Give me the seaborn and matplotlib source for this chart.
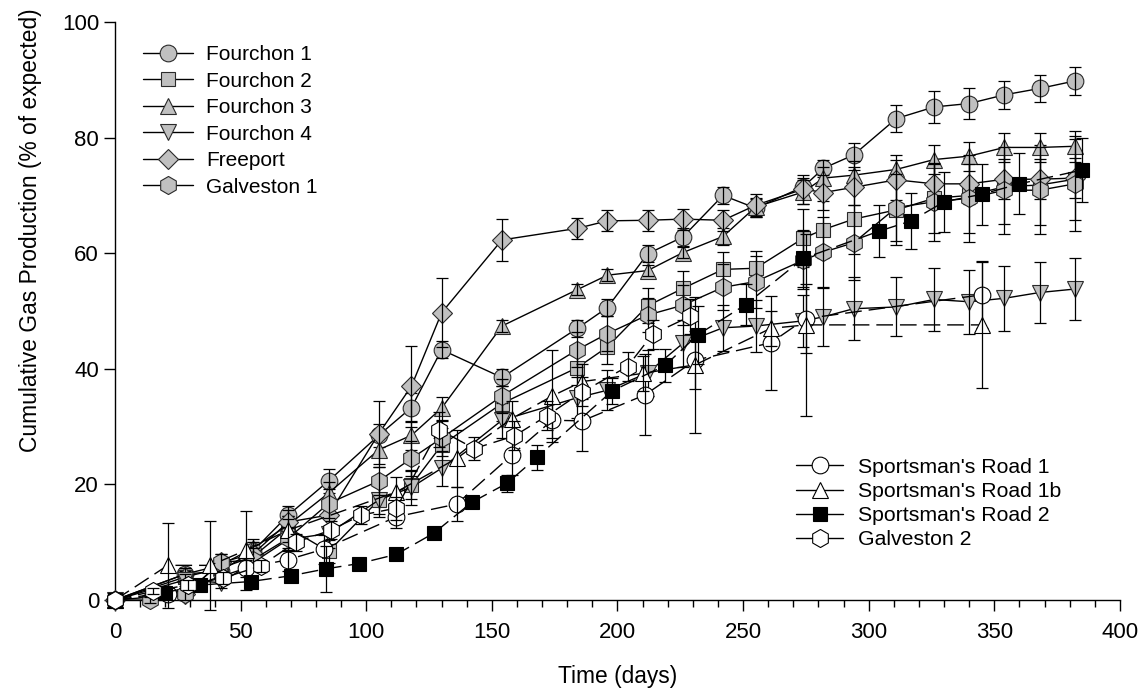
import numpy as np
import pandas as pd
import matplotlib
matplotlib.use("Agg")
import matplotlib.pyplot as plt
from matplotlib.lines import Line2D
from matplotlib.ticker import MultipleLocator
import seaborn as sns

# sampling days used by the gray (Fourchon / Freeport / Galveston 1) series
days_a = [0, 28, 42, 55, 69, 85, 105, 118, 130, 154, 184, 196, 212, 226, 242,
          255, 274, 282, 294, 311, 326, 340, 354, 368, 382]

fourchon1 = [0, 4.5, 5.0, 8.5, 14.7, 20.6, 28.5, 33.3, 43.3, 38.5, 47.0, 50.6, 59.9,
             62.8, 70.0, 67.8, 71.5, 74.7, 77.0, 83.3, 85.3, 85.9, 87.4, 88.5, 89.8]
fourchon1_err = [0, 1, 1.5, 1.5, 1.5, 2, 2, 2.5, 1.5, 1.5, 1.5, 1.5, 1.5,
                 1.5, 1.5, 1.5, 1.5, 1.5, 2, 2.4, 2.7, 2.6, 2.4, 2.3, 2.4]

fourchon2 = [0, 4.0, 5.5, 7.5, 12.5, 8.4, 17.3, 19.9, 26.8, 34.0, 40.2, 43.8, 50.9,
             53.9, 57.2, 57.4, 62.6, 64.1, 65.9, 67.5, 69.5, 70.0, 71.5, 71.8, 72.8]
fourchon2_err = [0, 1, 1, 1.5, 2, 2, 2.5, 2.5, 3, 3, 3, 3, 3,
                 3, 3, 3, 5, 5, 6, 6, 6, 6.5, 6.5, 7, 7]

fourchon3 = [0, 4.5, 6.0, 9.0, 13.0, 18.5, 26.0, 28.5, 33.2, 47.4, 53.7, 56.2, 57.0,
             60.1, 62.9, 68.0, 70.6, 73.0, 73.5, 74.5, 76.2, 76.8, 78.3, 78.3, 78.5]
fourchon3_err = [0, 1, 1, 1.5, 1.5, 2, 2.5, 2.5, 2, 1, 1, 1, 1,
                 1, 1.5, 1.5, 2, 2, 2.5, 2.5, 2.5, 2.5, 2.5, 2.5, 2.7]

fourchon4 = [0, 3.5, 3.0, 6.5, 10.5, 11.5, 17.3, 19.5, 22.8, 31.1, 35.0, 36.3, 39.3,
             44.4, 47.1, 47.4, 48.3, 49.0, 50.4, 50.7, 52.0, 51.6, 52.2, 53.2, 53.8]
fourchon4_err = [0, 1, 1, 1.5, 2, 2.5, 3, 3, 3, 3, 3.5, 3.5, 4,
                 4, 4, 4.5, 4.5, 5, 5.5, 5.1, 5.5, 5.5, 5.6, 5.2, 5.4]

freeport = [0, 1.0, 6.5, 8.0, 13.5, 14.7, 28.8, 37.0, 49.7, 62.3, 64.3, 65.6, 65.7,
            65.9, 65.7, 68.3, 71.1, 70.5, 71.4, 72.7, 72.0, 72.0, 72.8, 72.8, 73.0]
freeport_err = [0, 1, 1.5, 2, 2, 2.5, 5.7, 7, 6, 3.6, 1.8, 1.8, 1.8,
                1.8, 1.8, 2, 2.5, 3, 3, 3.5, 3.5, 3.5, 3.5, 3.5, 3.5]

days_g1 = [0, 14, 28, 42, 55, 69, 85, 105, 118, 130, 154, 184, 196, 212, 226, 242,
           255, 274, 282, 294, 311, 326, 340, 354, 368, 382]
galveston1 = [0, 0.0, 1.0, 6.5, 7.0, 10.7, 16.7, 20.6, 24.5, 28.0, 35.3, 43.3, 46.1,
              49.3, 51.0, 54.1, 55.1, 58.8, 60.2, 61.8, 67.9, 68.9, 69.5, 70.9, 70.9, 72.0]
galveston1_err = [0, 0.5, 1, 1.5, 2, 2, 2.5, 2.5, 3, 3, 3, 3, 3,
                  3, 3.5, 4, 4.5, 5, 6, 6.5, 5.8, 6.7, 7.5, 7.5, 7.5, 8.2]

days_s1 = [0, 21, 52, 69, 83, 112, 136, 158, 174, 186, 211, 231, 261, 275, 345]
sportsman1 = [0, 1.0, 5.5, 7.0, 8.8, 14.4, 16.6, 25.1, 31.1, 31.0, 35.5, 41.5, 44.5, 48.7, 52.8]
sportsman1_err = [0, 1, 1.5, 2, 2.5, 2, 3, 3.5, 3, 5.2, 7, 5, 8.1, 6, 5.7]

days_s1b = [0, 21, 38, 52, 69, 112, 136, 158, 174, 186, 210, 231, 261, 275, 345]
sportsman1b = [0, 6.0, 6.0, 8.6, 12.1, 18.7, 24.5, 31.4, 35.3, 37.8, 39.2, 40.7, 47.0, 47.6, 47.6]
sportsman1b_err = [0, 7.4, 7.7, 6.8, 2, 2.5, 5, 3, 8, 3, 3, 11.8, 3, 15.8, 11]

days_s2 = [0, 20, 34, 54, 70, 84, 97, 112, 127, 142, 156, 168, 198, 219, 232, 251,
           274, 304, 317, 330, 345, 360, 385]
sportsman2 = [0, 1.3, 2.6, 3.2, 4.2, 5.4, 6.3, 7.9, 11.6, 16.9, 20.2, 24.7, 36.2, 40.6,
              45.9, 51.1, 59.1, 63.8, 65.6, 68.9, 70.2, 72.0, 74.4]
sportsman2_err = [0, 0.5, 0.5, 0.8, 0.8, 4, 0.8, 1, 1, 1, 1.5, 2.2, 2.2, 2.9,
                  5, 3.5, 5, 4.5, 4.8, 5.2, 5.3, 5.3, 5.6]

days_g2 = [0, 15, 29, 43, 58, 72, 86, 98, 112, 129, 143, 159, 172, 186, 204, 214, 229]
galveston2 = [0, 1.5, 2.6, 3.8, 5.9, 10.0, 12.1, 14.7, 15.9, 29.5, 26.2, 28.4, 31.9,
              36.0, 40.4, 46.0, 49.1]
galveston2_err = [0, 0.5, 0.8, 1, 1, 1.5, 1.5, 1.5, 2, 3, 2, 2.5, 2.5, 2.5, 2.5, 2.5, 3]

GRAY = "#c0c0c0"
EDGE = "#2a2a2a"
DASH = (0, (12, 5))

# label, days, values, errors, marker, size, face, dashed
series = [
    ("Fourchon 1", days_a, fourchon1, fourchon1_err, "o", 12, GRAY, False),
    ("Fourchon 2", days_a, fourchon2, fourchon2_err, "s", 10.3, GRAY, False),
    ("Fourchon 3", days_a, fourchon3, fourchon3_err, "^", 11.5, GRAY, False),
    ("Fourchon 4", days_a, fourchon4, fourchon4_err, "v", 11.5, GRAY, False),
    ("Freeport", days_a, freeport, freeport_err, "D", 9.8, GRAY, False),
    ("Galveston 1", days_g1, galveston1, galveston1_err, "h", 13, GRAY, False),
    ("Sportsman's Road 1", days_s1, sportsman1, sportsman1_err, "o", 12, "white", True),
    ("Sportsman's Road 1b", days_s1b, sportsman1b, sportsman1b_err, "^", 11.5, "white", True),
    ("Sportsman's Road 2", days_s2, sportsman2, sportsman2_err, "s", 10.3, "black", True),
    ("Galveston 2", days_g2, galveston2, galveston2_err, "h", 13, "white", True),
]

sns.set_style("ticks")
plt.rcParams["font.family"] = ["Liberation Sans", "DejaVu Sans"]
plt.rcParams["text.color"] = "black"

fig = plt.figure(figsize=(11.42, 6.92), dpi=100)
ax = fig.add_axes([0.1007, 0.1329, 0.880, 0.8353])

handles = []
for i, (label, d, v, e, m, ms, fc, dashed) in enumerate(series):
    ec = EDGE if fc == GRAY else "black"
    ls = DASH if dashed else "-"
    df = pd.DataFrame({"day": d, "val": v, "err": e})
    sns.lineplot(data=df, x="day", y="val", ax=ax, color="black", lw=1.0,
                 linestyle=ls, marker=m, markersize=ms, markerfacecolor=fc,
                 markeredgecolor=ec, markeredgewidth=0.8, errorbar=None,
                 legend=False, zorder=3 + i)
    eb = df[df["err"] > 0]
    ax.errorbar(eb["day"], eb["val"], yerr=eb["err"], fmt="none", ecolor="black",
                elinewidth=0.9, capsize=4, capthick=0.9, zorder=3 + i)
    handles.append(Line2D([], [], color="black", lw=1.0, marker=m, markersize=ms,
                          markerfacecolor=fc, markeredgecolor=ec,
                          markeredgewidth=0.8, label=label))

ax.set_xlim(0, 400)
ax.set_ylim(0, 100)
ax.xaxis.set_major_locator(MultipleLocator(50))
ax.xaxis.set_minor_locator(MultipleLocator(10))
ax.yaxis.set_major_locator(MultipleLocator(20))
ax.tick_params(axis="both", which="major", direction="out", length=8, width=1,
               labelsize=16, color="black", labelcolor="black")
ax.tick_params(axis="x", which="major", pad=8)
ax.tick_params(axis="x", which="minor", direction="out", length=5, width=1, color="black")
for s in ["left", "bottom"]:
    ax.spines[s].set_linewidth(1)
    ax.spines[s].set_color("black")
sns.despine(ax=ax)
for art in ax.lines + ax.collections:
    art.set_clip_on(False)

ax.set_xlabel("Time (days)", fontsize=16.4, color="black")
ax.set_ylabel("Cumulative Gas Production (% of expected)", fontsize=16.4, color="black")
ax.xaxis.set_label_coords(0.5, -0.112)
ax.yaxis.set_label_coords(-0.073, 0.64)

leg1 = ax.legend(handles=handles[:6], loc="upper left", bbox_to_anchor=(0.028, 0.960),
                 frameon=False, fontsize=15, handlelength=2.4, handletextpad=0.63,
                 labelspacing=0.36, borderpad=0, borderaxespad=0, labelcolor="black")
ax.add_artist(leg1)
ax.legend(handles=handles[6:], loc="upper left", bbox_to_anchor=(0.678, 0.246),
          frameon=False, fontsize=15.3, handlelength=2.2, handletextpad=0.72,
          labelspacing=0.24, borderpad=0, borderaxespad=0, labelcolor="black")

fig.savefig("out.png", dpi=100)
